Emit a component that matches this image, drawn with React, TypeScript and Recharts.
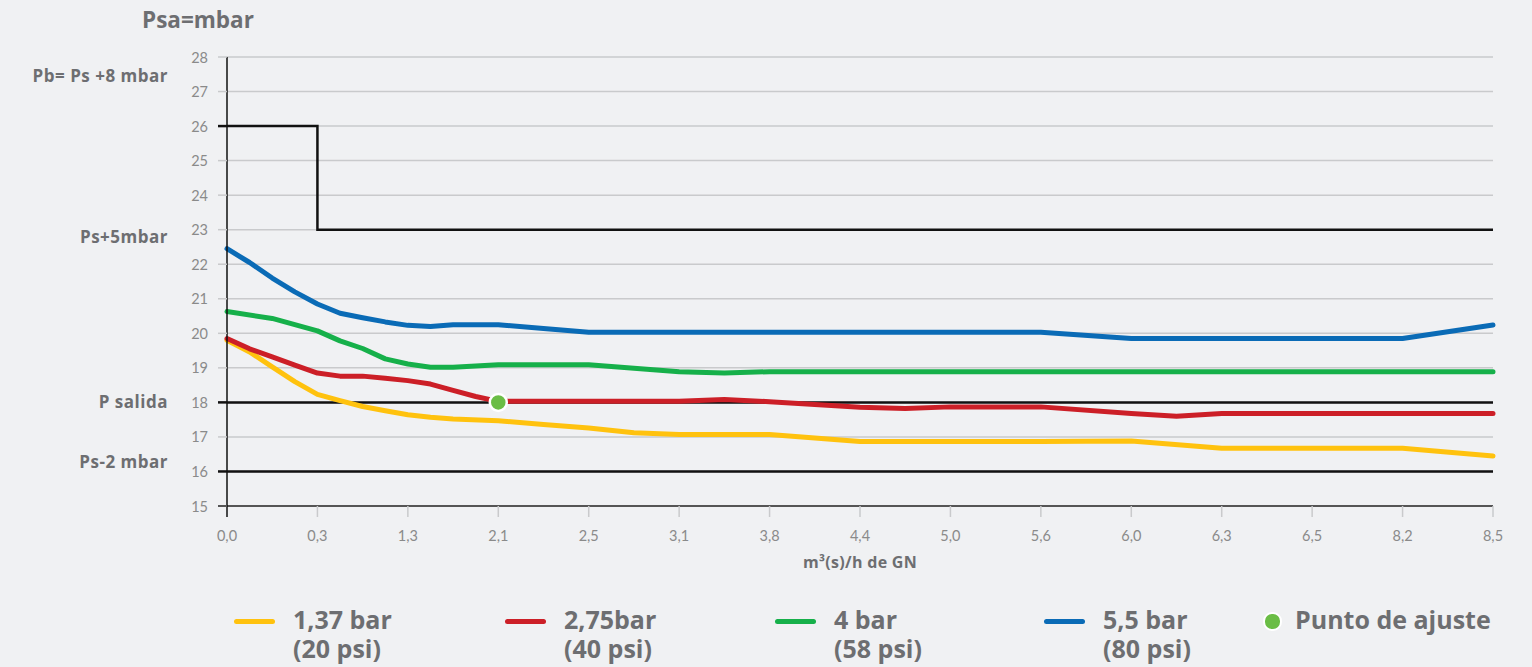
import React from 'react';
import {
  ComposedChart, Line, Scatter, XAxis, YAxis, CartesianGrid, ReferenceLine, ReferenceDot,
} from 'recharts';

// ---------- data ----------
const xLabels = ['0,0', '0,3', '1,3', '2,1', '2,5', '3,1', '3,8', '4,4', '5,0', '5,6', '6,0', '6,3', '6,5', '8,2', '8,5'];
const yTicks = [15, 16, 17, 18, 19, 20, 21, 22, 23, 24, 25, 26, 27, 28];

const yellowX = [0, 0.25, 0.5, 0.75, 1, 1.25, 1.5, 1.75, 2, 2.25, 2.5, 3, 3.5, 4, 4.5, 5, 6, 7, 8, 9, 10, 11, 12, 13, 14];
const yellowY = [19.8, 19.46, 19.03, 18.6, 18.23, 18.05, 17.88, 17.76, 17.64, 17.57, 17.52, 17.47, 17.36, 17.26, 17.12, 17.07, 17.07, 16.87, 16.87, 16.87, 16.88, 16.67, 16.67, 16.67, 16.45];

const redX = [0, 0.25, 0.5, 0.75, 1, 1.25, 1.5, 1.75, 2, 2.25, 2.5, 2.75, 3, 4, 5, 5.5, 6, 7, 7.5, 8, 9, 10, 10.5, 11, 12, 13, 14];
const redY = [19.85, 19.55, 19.32, 19.08, 18.85, 18.76, 18.76, 18.7, 18.63, 18.53, 18.35, 18.17, 18.03, 18.03, 18.03, 18.08, 18.02, 17.86, 17.82, 17.87, 17.87, 17.68, 17.6, 17.68, 17.68, 17.68, 17.68];

const greenX = [0, 0.5, 1, 1.25, 1.5, 1.75, 2, 2.25, 2.5, 3, 4, 5, 5.5, 6, 14];
const greenY = [20.63, 20.43, 20.07, 19.78, 19.56, 19.26, 19.11, 19.02, 19.02, 19.09, 19.09, 18.89, 18.85, 18.89, 18.89];

const blueX = [0, 0.25, 0.5, 0.75, 1, 1.25, 1.5, 1.75, 2, 2.25, 2.5, 3, 3.5, 4, 9, 10, 13, 14];
const blueY = [22.45, 22.05, 21.6, 21.2, 20.85, 20.58, 20.45, 20.33, 20.23, 20.2, 20.25, 20.25, 20.14, 20.03, 20.03, 19.85, 19.85, 20.24];

const limitX = [0, 1, 14];
const limitY = [26, 23, 23];

const adjustX = [3];
const adjustY = [18];

const refLines = [18, 16];
const annotationValues = [27.45, 22.8, 18, 16.28];
const annotationTexts = ['Pb= Ps +8 mbar', 'Ps+5mbar', 'P salida', 'Ps-2 mbar'];

const legendNames = ['1,37 bar', '2,75bar', '4 bar', '5,5 bar', 'Punto de ajuste'];
const legendSub = ['(20 psi)', '(40 psi)', '(58 psi)', '(80 psi)', ''];

// ---------- styling ----------
const C_YELLOW = '#FFC20E';
const C_RED = '#CC1F27';
const C_GREEN = '#16B04A';
const C_BLUE = '#0A6BB6';
const C_DOT = '#6ABD45';
const C_TEXT = '#6d6e71';
const C_TICK = '#8a8a8a';
const C_GRID = '#c9cacc';
const BG = '#f0f1f3';
const FONT_BOLD = "'Open Sans', Lato, sans-serif";
const FONT_TICK = "Lato, 'Open Sans', sans-serif";

const PLOT_LEFT = 227;
const PLOT_BOTTOM = 506;

const pts = (xs: number[], ys: number[]) => xs.map((x, i) => ({ x, y: ys[i] }));

const YTick = (props: any) => {
  const { y, payload } = props;
  const v = payload.value;
  const dark = v === 26 || v === 18 || v === 16;
  const axis = v === 15;
  return (
    <g>
      <line x1={PLOT_LEFT - 9} x2={PLOT_LEFT} y1={y} y2={y}
        stroke={dark ? '#111' : axis ? '#555' : C_GRID} strokeWidth={dark ? 2.5 : axis ? 2 : 1.5} />
      <text x={PLOT_LEFT - 19} y={y} textAnchor="end" dominantBaseline="central"
        fill={C_TICK} fontSize={14.5} fontFamily={FONT_TICK}>{v}</text>
    </g>
  );
};

const XTick = (props: any) => {
  const { x, payload } = props;
  const v = payload.value;
  return (
    <g>
      <line x1={x} x2={x} y1={PLOT_BOTTOM} y2={PLOT_BOTTOM + 11}
        stroke={v === 0 ? '#111' : C_GRID} strokeWidth={1.5} />
      <text x={x} y={PLOT_BOTTOM + 29} textAnchor="middle" dominantBaseline="central"
        fill={C_TICK} fontSize={14.5} fontFamily={FONT_TICK}>{xLabels[v]}</text>
    </g>
  );
};

const legendLeft = [234, 505, 775, 1044, 1263];
const legendColors = [C_YELLOW, C_RED, C_GREEN, C_BLUE, C_DOT];

export default function App() {
  return (
    <div style={{ position: 'absolute', left: 0, top: 0, width: 1532, height: 667, background: BG, fontFamily: FONT_BOLD, overflow: 'hidden' }}>
      <div style={{ position: 'absolute', left: 142, top: 4, fontSize: 22.5, fontWeight: 700, color: C_TEXT }}>Psa=mbar</div>
      <ComposedChart width={1532} height={600} margin={{ top: 57, right: 39, bottom: 0, left: 0 }}>
        <CartesianGrid horizontal vertical={false} stroke={C_GRID} strokeWidth={1.5} />
        <XAxis type="number" dataKey="x" domain={[0, 14]} ticks={xLabels.map((_, i) => i)}
          interval={0} height={94} tick={<XTick />} tickLine={false}
          axisLine={{ stroke: '#555', strokeWidth: 2 }}
          label={{ value: 'm³(s)/h de GN', position: 'insideTop', offset: 51, fill: C_TEXT, fontSize: 16, fontWeight: 700, fontFamily: FONT_BOLD, letterSpacing: 0.3 }} />
        <YAxis type="number" domain={[15, 28]} ticks={yTicks} interval={0} width={227}
          tick={<YTick />} tickLine={false} axisLine={{ stroke: '#111', strokeWidth: 1.5 }} />
        {refLines.map((v) => (
          <ReferenceLine key={v} y={v} stroke="#111" strokeWidth={2.5} />
        ))}
        {annotationValues.map((v, i) => (
          <ReferenceDot key={i} x={0} y={v} r={0} fill="none" stroke="none"
            label={{ value: annotationTexts[i], position: 'left', offset: 59, fill: C_TEXT, fontSize: 17, fontWeight: 700, fontFamily: FONT_BOLD, letterSpacing: 0.5 }} />
        ))}
        <Line data={pts(limitX, limitY)} dataKey="y" type="stepAfter" stroke="#111" strokeWidth={2.5} dot={false} isAnimationActive={false} />
        <Line data={pts(yellowX, yellowY)} dataKey="y" type="linear" stroke={C_YELLOW} strokeWidth={5} dot={false} strokeLinecap="round" strokeLinejoin="round" isAnimationActive={false} />
        <Line data={pts(redX, redY)} dataKey="y" type="linear" stroke={C_RED} strokeWidth={5} dot={false} strokeLinecap="round" strokeLinejoin="round" isAnimationActive={false} />
        <Line data={pts(greenX, greenY)} dataKey="y" type="linear" stroke={C_GREEN} strokeWidth={5} dot={false} strokeLinecap="round" strokeLinejoin="round" isAnimationActive={false} />
        <Line data={pts(blueX, blueY)} dataKey="y" type="linear" stroke={C_BLUE} strokeWidth={5} dot={false} strokeLinecap="round" strokeLinejoin="round" isAnimationActive={false} />
        <Scatter data={pts(adjustX, adjustY)} dataKey="y" isAnimationActive={false}
          shape={(p: any) => <circle cx={p.cx} cy={p.cy} r={8.5} fill={C_DOT} stroke="#fff" strokeWidth={2.5} />} />
      </ComposedChart>
      {legendNames.map((name, i) => (
        <div key={i} style={{ position: 'absolute', left: legendLeft[i], top: 605, display: 'flex', alignItems: 'flex-start' }}>
          {i < 4 ? (
            <div style={{ width: 41, height: 5, borderRadius: 3, background: legendColors[i], marginTop: 14, marginRight: 18 }} />
          ) : (
            <div style={{ width: 15, height: 15, borderRadius: 9, background: legendColors[i], border: '2px solid #fff', marginTop: 7, marginRight: 13 }} />
          )}
          <div style={{ fontSize: 25, fontWeight: 700, color: C_TEXT, lineHeight: '29px', whiteSpace: 'pre-line' }}>
            {legendSub[i] ? name + '\n' + legendSub[i] : name}
          </div>
        </div>
      ))}
    </div>
  );
}
